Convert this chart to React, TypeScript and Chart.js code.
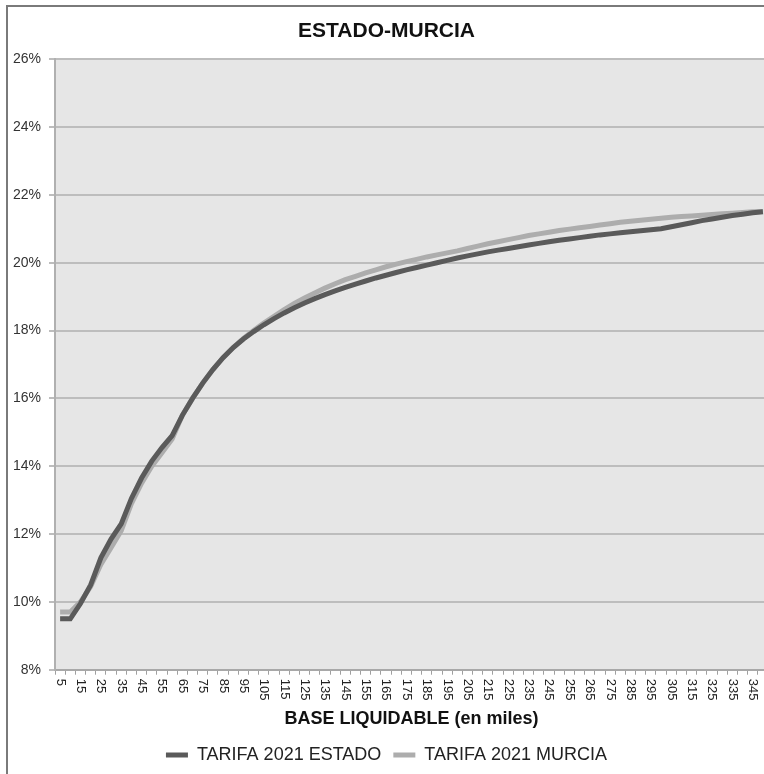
import React, { useEffect, useRef } from "react";
import { Chart, registerables } from "chart.js";

Chart.register(...registerables);

const TITLE = "ESTADO-MURCIA";
const X_TITLE = "BASE LIQUIDABLE (en miles)";
const SERIES_NAMES = ["TARIFA 2021 ESTADO", "TARIFA 2021 MURCIA"];
const SERIES_COLORS = ["#5a5a5a", "#adadad"];

const BASES = [
  5, 10, 15, 20, 25, 30, 35, 40, 45, 50,
  55, 60, 65, 70, 75, 80, 85, 90, 95, 100,
  105, 110, 115, 120, 125, 130, 135, 140, 145, 150,
  155, 160, 165, 170, 175, 180, 185, 190, 195, 200,
  205, 210, 215, 220, 225, 230, 235, 240, 245, 250,
  255, 260, 265, 270, 275, 280, 285, 290, 295, 300,
  305, 310, 315, 320, 325, 330, 335, 340, 345, 350,
];

const ESTADO = [
  9.5, 9.5, 9.95, 10.5, 11.3, 11.85, 12.3, 13.05, 13.65, 14.15,
  14.55, 14.9, 15.5, 16.0, 16.45, 16.85, 17.2, 17.5, 17.75, 17.97,
  18.17, 18.35, 18.52, 18.67, 18.81, 18.94, 19.06, 19.17, 19.27, 19.37,
  19.46, 19.55, 19.63, 19.71, 19.79, 19.86, 19.93, 20.0, 20.07, 20.14,
  20.2, 20.26, 20.32, 20.37, 20.42, 20.47, 20.52, 20.57, 20.62, 20.66,
  20.7, 20.74, 20.78, 20.82, 20.85, 20.88, 20.91, 20.94, 20.97, 21.0,
  21.06, 21.12, 21.18, 21.24, 21.29, 21.34, 21.39, 21.43, 21.47, 21.5,
];

const MURCIA = [
  9.7, 9.7, 10.0, 10.45, 11.1, 11.6, 12.1, 12.9, 13.5, 14.0,
  14.4, 14.8, 15.5, 16.0, 16.45, 16.85, 17.2, 17.5, 17.77, 18.0,
  18.22, 18.42, 18.62, 18.8, 18.96, 19.11, 19.25, 19.38, 19.5, 19.6,
  19.7, 19.79, 19.88, 19.96, 20.03, 20.1, 20.17, 20.23, 20.29, 20.35,
  20.42, 20.49, 20.56, 20.62, 20.68, 20.74, 20.8, 20.85, 20.9, 20.95,
  20.99, 21.03, 21.07, 21.11, 21.15, 21.19, 21.22, 21.25, 21.28, 21.31,
  21.34, 21.36, 21.38, 21.4, 21.42, 21.44, 21.46, 21.48, 21.5, 21.51,
];

const Y_MIN = 8;
const Y_MAX = 26;
const Y_STEP = 2;

const FONT = "'Liberation Sans', Arial, sans-serif";

const plotBgPlugin = {
  id: "plotBg",
  beforeDraw(chart: any) {
    const { ctx, chartArea } = chart;
    ctx.save();
    ctx.fillStyle = "#e6e6e6";
    ctx.fillRect(chartArea.left, chartArea.top, chartArea.right - chartArea.left, chartArea.bottom - chartArea.top);
    ctx.restore();
  },
};

const xLabelPlugin = {
  id: "xLabelsCw",
  afterDraw(chart: any) {
    const sc = chart.scales.x;
    const ctx = chart.ctx;
    ctx.save();
    ctx.font = `13px ${FONT}`;
    ctx.fillStyle = "#222222";
    ctx.textAlign = "left";
    ctx.textBaseline = "middle";
    BASES.forEach((b, i) => {
      if (i % 2 !== 0) return;
      const x = sc.getPixelForTick(i);
      ctx.save();
      ctx.translate(x, sc.top + 9);
      ctx.rotate(Math.PI / 2);
      ctx.fillText(String(b), 0, 0);
      ctx.restore();
    });
    ctx.restore();
  },
};

export default function App() {
  const ref = useRef<HTMLCanvasElement | null>(null);

  useEffect(() => {
    if (!ref.current) return;
    const chart = new Chart(ref.current, {
      type: "line",
      data: {
        labels: BASES.map(String),
        datasets: [
          {
            label: SERIES_NAMES[0],
            data: ESTADO,
            borderColor: SERIES_COLORS[0],
            backgroundColor: SERIES_COLORS[0],
            borderWidth: 5,
            pointRadius: 0,
            tension: 0,
          },
          {
            label: SERIES_NAMES[1],
            data: MURCIA,
            borderColor: SERIES_COLORS[1],
            backgroundColor: SERIES_COLORS[1],
            borderWidth: 5,
            pointRadius: 0,
            tension: 0,
          },
        ],
      },
      options: {
        animation: false,
        responsive: false,
        maintainAspectRatio: false,
        layout: { padding: { left: 5, right: 22, top: 0, bottom: 0 } },
        plugins: {
          tooltip: { enabled: false },
          title: {
            display: true,
            text: TITLE,
            color: "#111111",
            font: { family: FONT, size: 21, weight: "bold" },
            padding: { top: 19, bottom: 15 },
          },
          legend: {
            position: "bottom",
            labels: {
              color: "#222222",
              font: { family: FONT, size: 18 },
              boxWidth: 22,
              boxHeight: 5,
              padding: 12,
              generateLabels: (c: any) =>
                c.data.datasets.map((d: any, i: number) => ({
                  text: d.label,
                  fillStyle: d.borderColor,
                  strokeStyle: d.borderColor,
                  lineWidth: 0,
                  hidden: false,
                  datasetIndex: i,
                  fontColor: "#222222",
                })),
            },
          },
        },
        scales: {
          x: {
            offset: true,
            grid: {
              display: true,
              drawOnChartArea: false,
              offset: true,
              color: "#a0a0a0",
              tickLength: 5,
              lineWidth: 1,
            },
            border: { display: true, color: "#a8a8a8", width: 2 },
            ticks: {
              autoSkip: false,
              minRotation: 90,
              maxRotation: 90,
              padding: 6,
              color: "rgba(0,0,0,0)",
              font: { family: FONT, size: 13 },
              callback: (_v: any, i: number) => (i % 2 === 0 ? String(BASES[i]) : ""),
            },
            title: {
              display: true,
              text: X_TITLE,
              color: "#111111",
              font: { family: FONT, size: 18, weight: "bold" },
              padding: { top: 0, bottom: 4 },
            },
          },
          y: {
            min: Y_MIN,
            max: Y_MAX,
            grid: { color: "#bdbdbd", lineWidth: 2, tickLength: 6 },
            border: { display: true, color: "#b0b0b0", width: 2 },
            ticks: {
              stepSize: Y_STEP,
              padding: 8,
              color: "#333333",
              font: { family: FONT, size: 14 },
              callback: (v: any) => `${v}%`,
            },
          },
        },
      },
      plugins: [plotBgPlugin, xLabelPlugin],
    });
    return () => chart.destroy();
  }, []);

  return (
    <div
      style={{
        position: "fixed",
        left: 0,
        top: 0,
        width: 764,
        height: 774,
        overflow: "hidden",
        background: "#ffffff",
      }}
    >
      <div
        style={{
          position: "absolute",
          left: 6,
          top: 5,
          width: 900,
          height: 900,
          border: "2px solid #7a7a7a",
          boxSizing: "border-box",
        }}
      />
      <canvas
        ref={ref}
        width={790}
        height={774}
        style={{ position: "absolute", left: 0, top: 0, width: 790, height: 774 }}
      />
    </div>
  );
}
